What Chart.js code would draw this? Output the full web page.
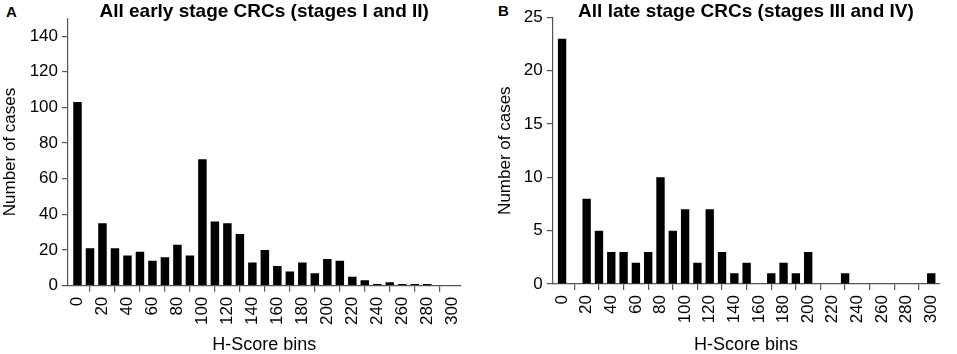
<!DOCTYPE html>
<html>
<head>
<meta charset="utf-8">
<script src="https://cdn.jsdelivr.net/npm/chart.js@4.4.1/dist/chart.umd.min.js"></script>
<style>
  html, body { margin: 0; padding: 0; background: #fff; }
  body { width: 957px; height: 354px; position: relative; overflow: hidden; font-family: "Liberation Sans", Arial, sans-serif; }
  .panel { position: absolute; top: 0; height: 354px; }
  #panelA { left: 0; width: 478px; }
  #panelB { left: 495px; width: 462px; }
  .letter { position: absolute; font-weight: bold; font-size: 15px; line-height: 15px; color: #000; }
</style>
</head>
<body>
<div class="letter" style="left:6px; top:4px;">A</div>
<div class="letter" style="left:498px; top:3px;">B</div>
<div class="panel" id="panelA"><canvas id="earlyChart"></canvas></div>
<div class="panel" id="panelB"><canvas id="lateChart"></canvas></div>
<script>
// H-Score bin starts (x values)
const hScoreBins = [0, 10, 20, 30, 40, 50, 60, 70, 80, 90, 100, 110, 120, 130, 140, 150,
  160, 170, 180, 190, 200, 210, 220, 230, 240, 250, 260, 270, 280, 290, 300];

// Number of cases, early stage (I and II)
const earlyCases = [103, 21, 35, 21, 17, 19, 14, 16, 23, 17, 71, 36, 35, 29, 13, 20,
  11, 8, 13, 7, 15, 14, 5, 3, 1, 2, 1, 1, 1, 0, 0];

// Number of cases, late stage (III and IV)
const lateCases = [23, 0, 8, 5, 3, 3, 2, 3, 10, 5, 7, 2, 7, 3, 1, 2,
  0, 1, 2, 1, 3, 0, 0, 1, 0, 0, 0, 0, 0, 0, 1];

const earlyTitle = "All early stage CRCs (stages I and II)";
const lateTitle = "All late stage CRCs (stages III and IV)";

const FONT = "'Liberation Sans', Arial, sans-serif";
const AXIS_COLOR = "#555";

function makeHistogram(canvasId, title, counts, cfg) {
  const points = hScoreBins.map((bin, i) => ({ x: bin, y: counts[i] }));
  const ctx = document.getElementById(canvasId).getContext("2d");
  return new Chart(ctx, {
    type: "bar",
    data: {
      datasets: [
        {
          data: points,
          backgroundColor: "#000",
          borderWidth: 0,
          barPercentage: 0.68,
          categoryPercentage: 1,
        },
      ],
    },
    options: {
      responsive: true,
      maintainAspectRatio: false,
      animation: false,
      layout: {
        padding: { top: 0, right: cfg.padRight, bottom: 0, left: 0 },
      },
      plugins: {
        legend: { display: false },
        tooltip: { enabled: false },
        title: {
          display: true,
          text: title,
          fullSize: false,
          color: "#000",
          font: { family: FONT, size: 19, weight: "bold", lineHeight: 1 },
          padding: { top: 2, bottom: cfg.titleBottom },
        },
      },
      scales: {
        x: {
          type: "linear",
          min: -7.6,
          max: 306.5,
          offset: false,
          afterFit: (scale) => { scale.height = cfg.xHeight; },
          border: { display: true, color: AXIS_COLOR, width: 1.2 },
          grid: {
            display: true,
            drawOnChartArea: false,
            drawTicks: true,
            tickLength: 6,
            color: AXIS_COLOR,
            lineWidth: 1.2,
          },
          ticks: {
            stepSize: 20,
            includeBounds: false,
            minRotation: 90,
            maxRotation: 90,
            padding: 5,
            color: "#000",
            font: { family: FONT, size: 17 },
          },
          title: {
            display: true,
            text: "H-Score bins",
            color: "#000",
            font: { family: FONT, size: 18, lineHeight: 1 },
            padding: { top: 0, bottom: 0 },
          },
        },
        y: {
          min: 0,
          max: cfg.yMax,
          afterFit: (scale) => { scale.width = cfg.yWidth; },
          border: { display: true, color: AXIS_COLOR, width: 1.2 },
          grid: {
            display: true,
            drawOnChartArea: false,
            drawTicks: true,
            tickLength: 6,
            color: AXIS_COLOR,
            lineWidth: 1.2,
          },
          ticks: {
            stepSize: cfg.yStep,
            includeBounds: false,
            padding: 4,
            color: "#000",
            font: { family: FONT, size: 17 },
          },
          title: {
            display: true,
            text: "Number of cases",
            color: "#000",
            font: { family: FONT, size: 17 },
            padding: { top: 0, bottom: 0 },
          },
        },
      },
    },
  });
}

makeHistogram("earlyChart", earlyTitle, earlyCases, {
  yMax: 150, yStep: 20, yWidth: 68, xHeight: 68.3, padRight: 8, titleBottom: -2.7,
});
makeHistogram("lateChart", lateTitle, lateCases, {
  yMax: 25, yStep: 5, yWidth: 57.7, xHeight: 70, padRight: 2, titleBottom: -3.7,
});
</script>
</body>
</html>
